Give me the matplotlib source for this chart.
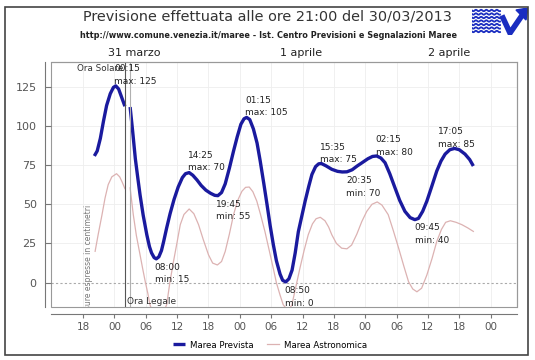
import numpy as np
import matplotlib.pyplot as plt
from matplotlib.patches import Rectangle, Polygon

# ore "legali" dal 30/03 00:00 (il cambio d'ora fa saltare 26 -> 27)
ore_prev_sol = [20.15, 20.7, 21.3, 21.9, 22.5, 23.2, 23.8, 24.25, 24.8, 25.4, 26.0]
prev_sol = [80.8, 84, 92, 103, 113, 120.5, 124.5, 125.5, 123.5, 118, 112.5]

ore_prev_leg = [27.0, 27.5, 28.0, 28.5, 28.9, 29.5, 30.2, 30.7, 31.1, 31.6, 32.0, 32.5, 33.0,
                33.4, 34.0, 34.65, 35.4, 36.2, 37.0, 37.6, 38.3, 39.0, 39.8, 40.6, 41.5,
                42.4, 43.2, 43.8, 44.5, 45.2, 46.0, 46.8, 47.5, 48.2, 48.8, 49.3, 49.9,
                50.6, 51.3, 51.9, 52.6, 53.2, 53.8, 54.4, 55.0, 55.7, 56.2, 56.8, 57.4,
                58.0, 58.6, 59.2, 59.9, 60.5, 61.2, 61.8, 62.5, 63.1, 63.6, 64.5, 65.6,
                66.7, 67.6, 68.5, 69.5, 70.5, 71.4, 72.5, 73.4, 74.2, 75.0, 75.8, 76.7,
                77.7, 78.6, 79.6, 80.6, 81.5, 82.2, 83.0, 83.8, 84.7, 85.7, 86.5, 87.3,
                88.2, 89.1, 90.0, 91.1, 92.0, 92.7]
prev_leg = [112, 96, 79, 66, 56, 43, 30.5, 23, 19, 16, 15.2, 16.5, 20.5,
            26, 35, 44, 53, 61, 67, 69.5, 70.2, 68.5, 65.5, 62, 59,
            57, 55.7, 55.5, 57.5, 63, 73, 84, 93, 101, 104.5, 105.4, 104,
            98, 89, 77.6, 63, 50, 36.5, 24.5, 14, 5.5, 1.5, 0.5, 2.5,
            8, 19, 32.5, 43, 52, 61.5, 69, 74, 75.8, 76, 74.5, 72.3,
            71, 70.6, 70.7, 72, 74.5, 76.5, 79, 80.5, 80.8, 79.5, 76.5, 69.5,
            60.5, 52.5, 45.5, 41.5, 40.2, 41, 45.5, 52, 61, 71.2, 77.5, 82,
            84.8, 85.6, 84.8, 82, 78.5, 74.4]

ore_astr_sol = [20.3, 20.9, 21.6, 22.2, 22.8, 23.5, 24.4, 25.0, 25.5, 26.0]
astr_sol = [20, 31, 43, 54, 62.5, 67.5, 69.5, 67.5, 64, 60]

ore_astr_leg = [27.0, 27.6, 28.2, 28.9, 29.4, 29.9, 30.4, 30.8, 31.5, 32.3, 33.1, 34.0, 34.6,
                35.3, 36.0, 36.6, 37.3, 38.3, 39.2, 40.1, 41.0, 42.0, 42.8, 43.7, 44.5,
                45.2, 46.0, 46.8, 47.6, 48.4, 49.1, 49.8, 50.5, 51.25, 52.0, 52.8, 53.6,
                54.4, 55.0, 55.7, 56.3, 57.0, 57.5, 57.95, 58.7, 59.5, 60.3, 61.1, 61.9,
                62.6, 63.4, 64.3, 65.0, 65.6, 66.5, 67.5, 68.5, 69.4, 70.4, 71.35, 72.3,
                73.3, 74.3, 75.2, 76.4, 77.4, 78.4, 79.4, 80.3, 81.1, 81.9, 82.8, 83.8,
                84.8, 85.7, 86.6, 87.4, 88.3, 89.4, 90.5, 91.6, 92.7]
astr_leg = [60.5, 43.5, 30, 17.8, 9, 0.6, -7, -14, -21, -24, -21, -14, 0,
            13.5, 26, 37, 43.5, 47, 44, 37, 27.5, 17.8, 12.5, 11.3, 13.5,
            19.9, 31, 43.4, 52.5, 58.3, 60.8, 61, 58, 52, 43, 32.7, 21,
            9.2, 0, -7.9, -14, -17, -16.5, -14.3, -3, 9.2, 20.5, 30.6, 37.5,
            40.8, 41.7, 39.5, 35.5, 30.6, 25, 22, 21.6, 24, 31, 39, 45.5,
            50, 51.5, 49.5, 43.4, 33, 22, 10.5, 0.6, -4, -5.8, -3.5, 4.9,
            15.5, 26.3, 34, 38.5, 39.5, 38.5, 37, 35, 32.7]

# massimi e minimi della marea prevista
estremi_ore = [24.25, 32.0, 38.42, 43.75, 49.25, 56.83, 63.58, 68.58, 74.25, 81.75, 89.08]
estremi_orario = ['00:15', '08:00', '14:25', '19:45', '01:15', '08:50',
                  '15:35', '20:35', '02:15', '09:45', '17:05']
estremi_tipo = ['max', 'min', 'max', 'min', 'max', 'min', 'max', 'min', 'max', 'min', 'max']
estremi_val = [125, 15, 70, 55, 105, 0, 75, 70, 80, 40, 85]

tick_ore = np.arange(18, 97, 6)
tick_label = ['18', '00', '06', '12', '18', '00', '06', '12', '18', '00', '06', '12', '18', '00']
giorni = ['31 marzo', '1 aprile', '2 aprile']
giorni_pos = [27.7, 59.7, 88.0]

blu = '#1a1a9e'
rosa = '#dcb2b2'
grigio = '#555555'

fig = plt.figure(figsize=(5.35, 3.6), dpi=100)
ax = fig.add_axes([0.0948, 0.1472, 0.871, 0.6792])

ax.plot(ore_astr_sol, astr_sol, color=rosa, lw=0.9, label='Marea Astronomica')
ax.plot(ore_astr_leg, astr_leg, color=rosa, lw=0.9)
ax.plot(ore_prev_sol, prev_sol, color=blu, lw=2.4, label='Marea Prevista', solid_capstyle='butt')
ax.plot(ore_prev_leg, prev_leg, color=blu, lw=2.4, solid_capstyle='butt')

ax.set_xlim(11.8, 101)
ax.set_ylim(-15.5, 140.4)

# griglia leggera e linea dello zero
for t in tick_ore:
    ax.axvline(t, color='#eeeeee', lw=0.6, zorder=0)
for v in [25, 50, 75, 100, 125]:
    ax.axhline(v, color='#eeeeee', lw=0.6, zorder=0)
ax.axhline(0, color='#aaaaaa', lw=0.8, ls=(0, (2, 2)), zorder=0)

# cambio ora solare -> legale
ax.axvline(26, color='#555555', lw=0.8)
ax.axvline(27, color='#b0b0b0', lw=0.8)
ax.annotate('Ora Solare', (26, 1), xycoords=('data', 'axes fraction'), xytext=(-1, -1),
            textcoords='offset points', ha='right', va='top', fontsize=6.3, color='#333333')
ax.annotate('Ora Legale', (26, 0), xycoords=('data', 'axes fraction'), xytext=(1.5, 0.5),
            textcoords='offset points', ha='left', va='bottom', fontsize=6.5, color='#333333')

ax.text(18.95, -22.6, 'Misure espresse in centimetri', rotation=90, ha='center', va='bottom',
        fontsize=5.5, color='#777777', clip_on=True)

for i in range(len(estremi_ore)):
    testo = estremi_orario[i] + '\n' + estremi_tipo[i] + ': ' + str(estremi_val[i])
    dx = -12 if i == len(estremi_ore) - 1 else -1
    if estremi_tipo[i] == 'max':
        ax.annotate(testo, (estremi_ore[i], estremi_val[i]), xytext=(dx, 0.5),
                    textcoords='offset points', ha='left', va='bottom', fontsize=6.5,
                    linespacing=1.5, color='#222222')
    else:
        ax.annotate(testo, (estremi_ore[i], estremi_val[i]), xytext=(dx, -2.5),
                    textcoords='offset points', ha='left', va='top', fontsize=6.5,
                    linespacing=1.5, color='#222222')

for g, p in zip(giorni, giorni_pos):
    ax.text(p, 1.02, g, transform=ax.get_xaxis_transform(), ha='center', va='bottom',
            fontsize=8, color='#222222')

# cornice del grafico e assi staccati
for s in ['top', 'right']:
    ax.spines[s].set_color('#999999')
    ax.spines[s].set_linewidth(0.8)
ax.add_patch(Rectangle((0, 0), 1, 1, transform=ax.transAxes, fill=False,
                       edgecolor='#999999', lw=0.8, clip_on=False))
ax.spines['left'].set_position(('outward', 4.1))
ax.spines['bottom'].set_position(('outward', 4.9))
ax.spines['left'].set_color('#777777')
ax.spines['bottom'].set_color('#777777')
ax.set_yticks([0, 25, 50, 75, 100, 125])
ax.set_xticks(tick_ore)
ax.set_xticklabels(tick_label)
ax.tick_params(axis='y', direction='in', length=4, color='#777777', labelsize=8,
               labelcolor=grigio, pad=6)
ax.tick_params(axis='x', direction='out', length=3, color='#777777', labelsize=7.5,
               labelcolor=grigio, pad=3)

fig.text(267 / 535, 1 - 16.4 / 360, 'Previsione effettuata alle ore 21:00 del 30/03/2013',
         ha='center', va='center', fontsize=10.4, color='#333333')
fig.text(269 / 535, 1 - 36 / 360,
         'http://www.comune.venezia.it/maree - Ist. Centro Previsioni e Segnalazioni Maree',
         ha='center', va='center', fontsize=5.9, fontweight='bold', color='#222222')

fig.legend(loc='center', bbox_to_anchor=(270 / 535, 1 - 345 / 360), ncol=2, frameon=False,
           handles=[ax.lines[2], ax.lines[0]], fontsize=6.2, handlelength=1.4,
           columnspacing=1.6, handletextpad=0.6)

# logo
logo = fig.add_axes([472 / 535, 1 - 35 / 360, 56 / 535, 27 / 360])
logo.set_xlim(0, 56)
logo.set_ylim(27, 0)
logo.axis('off')
xw = np.linspace(0, 28, 60)
for k in range(7):
    logo.plot(xw, 2.5 + k * 3.5 + 0.7 * np.sin(xw * 1.2), color='#1a2dc0', lw=1.3)
logo.plot([31, 38, 51], [10, 25, 6], color='#1a2dc0', lw=4, solid_joinstyle='miter')
logo.add_patch(Polygon([[44, 2], [56, 0], [54, 12]], closed=True, color='#1a2dc0'))

fig.add_artist(Rectangle((5 / 535, 1 - 355 / 360), 523 / 535, 348 / 360,
                         transform=fig.transFigure, fill=False, edgecolor='#444444', lw=1.2))

fig.savefig('out.png', dpi=100)
